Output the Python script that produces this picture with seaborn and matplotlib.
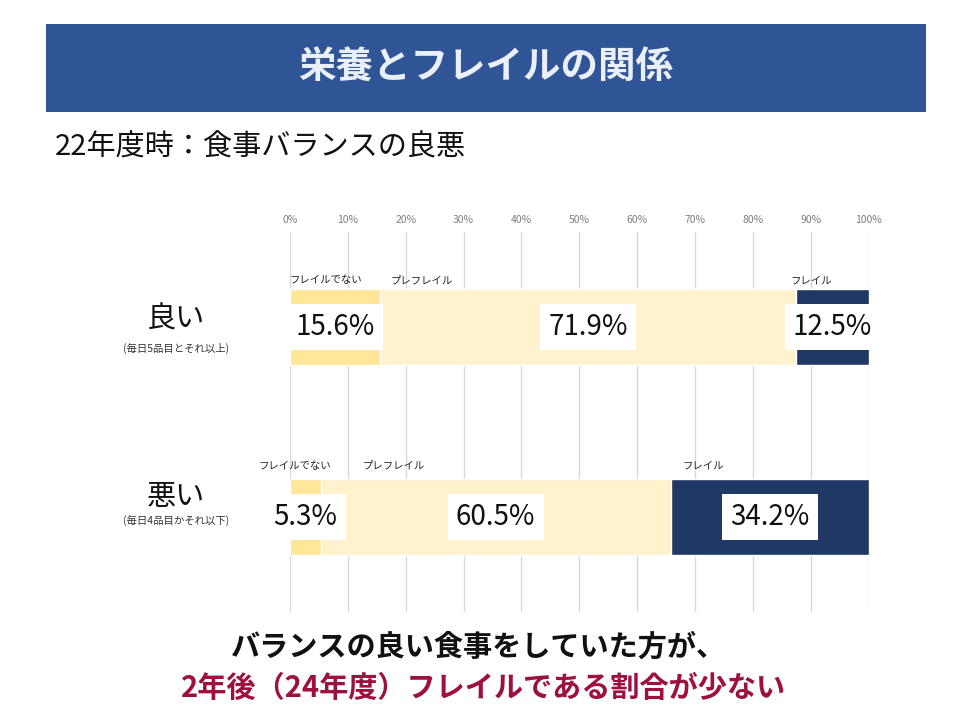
import numpy as np
import pandas as pd
import matplotlib.pyplot as plt
import seaborn as sns
from matplotlib.patches import Rectangle

# data
categories = ['良い', '悪い']
sub_labels = ['(毎日5品目とそれ以上)', '(毎日4品目かそれ以下)']
series = ['フレイルでない', 'プレフレイル', 'フレイル']
not_frail = [15.6, 5.3]
pre_frail = [71.9, 60.5]
frail = [12.5, 34.2]
xticks = list(range(0, 101, 10))

colors = ['#FFE699', '#FFF2CC', '#203864']

sns.set_theme(style='white')
plt.rcParams['font.family'] = ['Noto Sans CJK JP', 'DejaVu Sans']

values = np.array([not_frail, pre_frail, frail])
cum = np.cumsum(values, axis=0)

fig = plt.figure(figsize=(9.6, 7.2), dpi=100)
ax = fig.add_axes([0.302, 0.15, 0.603, 0.528])

# stacked bars: draw the longest cumulative first
for i in reversed(range(len(series))):
    df = pd.DataFrame({'cat': categories, 'val': cum[i]})
    sns.barplot(data=df, x='val', y='cat', orient='h', color=colors[i],
                width=0.4, saturation=1, ax=ax)

ax.set_xlim(0, 100)
ax.set_ylim(1.5, -0.5)
ax.set_xticks(xticks)
ax.set_xticklabels([f'{t}%' for t in xticks], fontsize=7.5, color='#7F7F7F')
ax.xaxis.tick_top()
ax.tick_params(axis='x', length=0, pad=5)
ax.set_yticks([])
ax.set_xlabel('')
ax.set_ylabel('')
ax.grid(axis='x', color='#D9D9D9', linewidth=1)
ax.set_axisbelow(True)
for s in ax.spines.values():
    s.set_visible(False)

# value labels in white boxes
for j in range(len(categories)):
    starts = np.concatenate([[0], cum[:-1, j]])
    for i in range(len(series)):
        xc = starts[i] + values[i, j] / 2
        ax.text(xc, j, f'{values[i, j]:.1f}%', ha='center', va='center',
                fontsize=20, color='#111111',
                bbox=dict(facecolor='white', edgecolor='none', pad=6))

# series name labels above each bar
name_x = [[0.0, 17.4, 86.4], [-5.5, 12.6, 67.9]]
name_dy = [-0.245, -0.27]
for j in range(len(categories)):
    for i in range(len(series)):
        ax.text(name_x[j][i], j + name_dy[j], series[i], ha='left', va='center',
                fontsize=7.5, color='#222222', clip_on=False)

# category labels on the left
cat_y = [320, 497]
sub_y = [348, 521]
for j in range(len(categories)):
    fig.text(176 / 960, 1 - cat_y[j] / 720, categories[j], ha='center', va='center',
             fontsize=21, color='#111111')
    fig.text(176 / 960, 1 - sub_y[j] / 720, sub_labels[j], ha='center', va='center',
             fontsize=7.5, color='#333333')

# header bar
fig.patches.append(Rectangle((46 / 960, 1 - 112 / 720), 880 / 960, 88 / 720,
                             transform=fig.transFigure, facecolor='#2F5597',
                             edgecolor='none', zorder=0))
fig.text(486 / 960, 1 - 66 / 720, '栄養とフレイルの関係', ha='center', va='center',
         fontsize=27, fontweight='bold', color='#EAF0FA')

fig.text(55 / 960, 1 - 148 / 720, '22年度時：食事バランスの良悪', ha='left', va='center',
         fontsize=21, color='#111111')

fig.text(479 / 960, 1 - 647 / 720, 'バランスの良い食事をしていた方が、', ha='center',
         va='center', fontsize=21, fontweight='bold', color='#111111')
fig.text(484 / 960, 1 - 688 / 720, '2年後（24年度）フレイルである割合が少ない', ha='center',
         va='center', fontsize=21, fontweight='bold', color='#9E1040')

fig.savefig('out.png', dpi=100, facecolor='white')
